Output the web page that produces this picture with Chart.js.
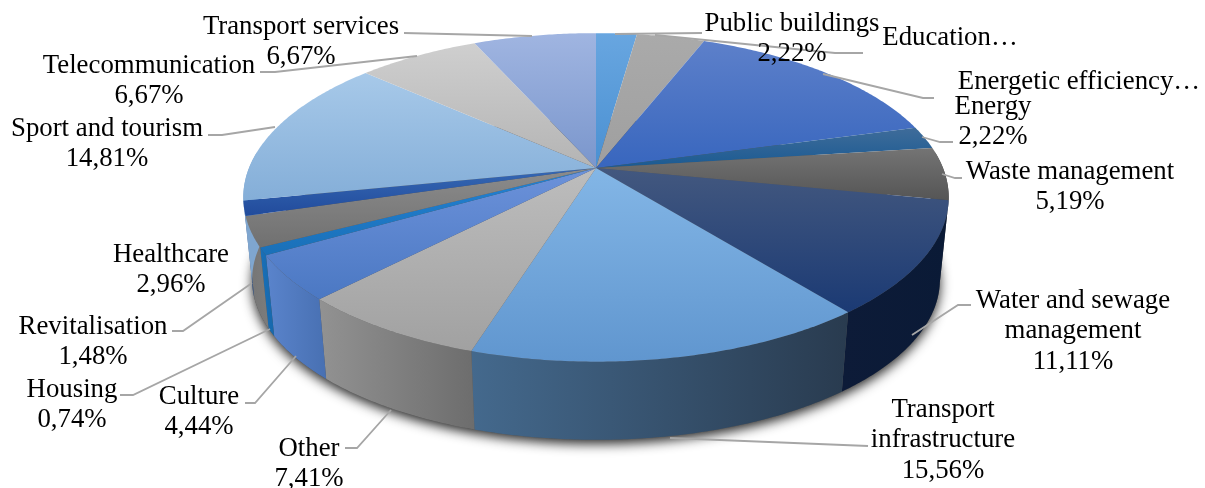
<!DOCTYPE html>
<html>
<head>
<meta charset="utf-8">
<title>Investment by sector</title>
<script src="https://cdn.jsdelivr.net/npm/chart.js@4"></script>
<style>
    html, body { margin: 0; padding: 0; background: #fff; }
    #wrap { position: relative; width: 1205px; height: 488px; }
</style>
</head>
<body>
<div id="wrap"><canvas id="myChart" width="1205" height="488"></canvas></div>
<script>
// shares in percent, clockwise from 12 o'clock
const categories = ['Public buildings', 'Education…', 'Energetic efficiency…', 'Energy', 'Waste management',
    'Water and sewage management', 'Transport infrastructure', 'Other', 'Culture', 'Housing',
    'Healthcare', 'Revitalisation', 'Sport and tourism', 'Telecommunication', 'Transport services'];
const shares = [2.22, 3.70, 14.81, 2.22, 5.19, 11.11, 15.56, 7.41, 4.44, 0.74, 2.96, 1.48, 14.81, 6.67, 6.67];
const hiddenValue = ['Education…', 'Energetic efficiency…'];

const labelLines = {
    'Water and sewage management': ['Water and sewage', 'management'],
    'Transport infrastructure': ['Transport', 'infrastructure']
};

// [light, dark] for the top face, [left, right] for the side wall
const topColors = [['#68a6e0', '#4a90d2'], ['#aaaaaa', '#9f9f9f'], ['#5d80ca', '#3866be'], ['#3f6c9a', '#1a5a92'],
    ['#747474', '#555555'], ['#43587f', '#1b3a74'], ['#83b6e6', '#6096cf'], ['#bdbdbd', '#a1a1a1'],
    ['#6c92da', '#4b78c3'], ['#2382d4', '#1a70b8'], ['#8c8c8c', '#707070'], ['#3668b4', '#214b9c'],
    ['#a7c9e9', '#84aed8'], ['#cfcfcf', '#b4b4b4'], ['#a0b5e1', '#7a96cc']];
const wallColors = [['#4a90d2', '#4a90d2'], ['#999999', '#999999'], ['#3866be', '#3866be'], ['#1a5a92', '#1a5a92'],
    ['#4a4a4a', '#3c3c3c'], ['#0d1b38', '#0a1a36'], ['#44698d', '#293b4f'], ['#929292', '#6d6d6d'],
    ['#5a84cc', '#4870b2'], ['#1a70b8', '#1668ac'], ['#747474', '#7c7c7c'], ['#3a5c92', '#3a5c92'],
    ['#7fa6cf', '#7fa6cf'], ['#b0b0b0', '#b0b0b0'], ['#7a96cc', '#7a96cc']];

// label anchors (centre x, first line y) and leader lines
const labelSpots = [[792, 23.5], [950, 37.5], [1079, 81.5], [993, 106.5], [1070, 171.5], [1073, 300.5], [943, 409.5],
    [309, 448.5], [199, 396.5], [72, 389.5], [171, 254.5], [93, 326.5], [107, 128.5], [149, 65.5], [301, 26.5]];
const leaders = [
    [[615, 34], [702, 33]],
    [[655, 35], [835, 53], [863, 53]],
    [[823, 74], [923, 98], [934, 98]],
    [[922, 137], [940, 142], [953, 142]],
    [[942, 174], [955, 178], [962, 178]],
    [[912, 335], [958, 305], [971, 305]],
    [[670, 438], [868, 446]],
    [[391, 410], [357, 448], [345, 448]],
    [[296, 356], [255, 403], [245, 403]],
    [[270, 329], [133, 395], [120, 395]],
    [],
    [[252, 283], [183, 331], [172, 331]],
    [[275, 127], [222, 135], [208, 135]],
    [[417, 56], [275, 72], [260, 72]],
    [[532, 36], [404, 33]]
];

// tilted disc: circle angle -> canvas point, with perspective foreshortening
const tilt = { cx: 596, cy: 168, rx: 347, ry: 159, k: 0.179, depth: 83, bottomScale: 0.975 };

function rimPoint(a, bottom) {
    const u = Math.cos(a), v = Math.sin(a), w = 1 - tilt.k * v;
    const x = tilt.rx * u / w, y = tilt.ry * v / w;
    if (bottom) {
        return [tilt.cx + x * tilt.bottomScale, tilt.cy + tilt.depth + y * tilt.bottomScale];
    }
    return [tilt.cx + x, tilt.cy + y];
}

function rimPath(a0, a1, bottom) {
    const steps = Math.max(2, Math.ceil((a1 - a0) / 0.01));
    const pts = [];
    for (let i = 0; i <= steps; i++) {
        pts.push(rimPoint(a0 + (a1 - a0) * i / steps, bottom));
    }
    return pts;
}

function fillPoly(ctx, pts, style) {
    ctx.beginPath();
    pts.forEach((p, i) => i ? ctx.lineTo(p[0], p[1]) : ctx.moveTo(p[0], p[1]));
    ctx.closePath();
    ctx.fillStyle = style;
    ctx.fill();
}

const tiltedPie = {
    id: 'tiltedPie',
    beforeDatasetsDraw(chart) {
        const ctx = chart.ctx;
        const arcs = chart.getDatasetMeta(0).data;

        // soft shadow under the disc
        ctx.save();
        ctx.shadowColor = 'rgba(0,0,0,0.85)';
        ctx.shadowBlur = 12;
        ctx.shadowOffsetY = 4;
        fillPoly(ctx, rimPath(0, Math.PI * 2, true), '#555');
        ctx.restore();

        // side walls, only the front half shows
        const frontStart = -0.1, frontEnd = Math.PI + 0.1;
        arcs.forEach((arc, i) => {
            const a0 = Math.max(arc.startAngle, frontStart), a1 = Math.min(arc.endAngle, frontEnd);
            if (a1 <= a0) return;
            const top = rimPath(a0, a1, false), low = rimPath(a0, a1, true);
            const xs = top.concat(low).map(p => p[0]);
            const g = ctx.createLinearGradient(Math.min(...xs), 0, Math.max(...xs), 0);
            g.addColorStop(0, wallColors[i][0]);
            g.addColorStop(1, wallColors[i][1]);
            fillPoly(ctx, top.concat(low.reverse()), g);
        });

        // top faces
        arcs.forEach((arc, i) => {
            const pts = [[tilt.cx, tilt.cy]].concat(rimPath(arc.startAngle, arc.endAngle, false));
            const ys = pts.map(p => p[1]);
            const g = ctx.createLinearGradient(0, Math.min(...ys), 0, Math.max(...ys));
            g.addColorStop(0, topColors[i][0]);
            g.addColorStop(1, topColors[i][1]);
            fillPoly(ctx, pts, g);
        });
        return false;
    },
    afterDraw(chart) {
        const ctx = chart.ctx;
        ctx.save();
        ctx.strokeStyle = '#a6a6a6';
        ctx.lineWidth = 1.8;
        leaders.forEach(line => {
            if (!line.length) return;
            ctx.beginPath();
            line.forEach((p, i) => i ? ctx.lineTo(p[0], p[1]) : ctx.moveTo(p[0], p[1]));
            ctx.stroke();
        });

        ctx.fillStyle = '#000';
        ctx.font = "26.8px 'Liberation Serif'";
        ctx.textAlign = 'center';
        ctx.textBaseline = 'middle';
        categories.forEach((name, i) => {
            const lines = (labelLines[name] || [name]).slice();
            if (!hiddenValue.includes(name)) {
                lines.push(shares[i].toFixed(2).replace('.', ',') + '%');
            }
            lines.forEach((text, n) => ctx.fillText(text, labelSpots[i][0], labelSpots[i][1] + n * 30.7));
        });
        ctx.restore();
    }
};

const ctx = document.getElementById('myChart');
new Chart(ctx, {
    type: 'pie',
    data: {
        labels: categories,
        datasets: [{
            data: shares,
            backgroundColor: topColors.map(c => c[1]),
            borderWidth: 0
        }]
    },
    options: {
        responsive: false,
        animation: false,
        plugins: {
            legend: { display: false },
            tooltip: { enabled: false }
        }
    },
    plugins: [tiltedPie]
});
</script>
</body>
</html>
